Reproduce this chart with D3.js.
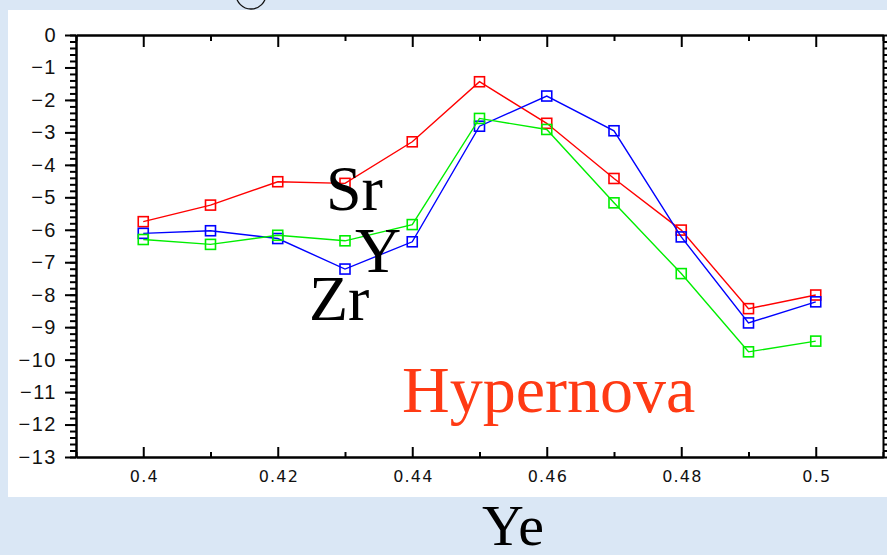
<!DOCTYPE html>
<html>
<head>
<meta charset="utf-8">
<script src="https://cdn.jsdelivr.net/npm/d3@7"></script>
<style>
  html, body { margin: 0; padding: 0; background: #dae7f5; }
  svg { display: block; }
</style>
</head>
<body>
<svg id="chart" width="887" height="555"></svg>
<script>
// ---- data ----
const ye = [0.40, 0.41, 0.42, 0.43, 0.44, 0.45, 0.46, 0.47, 0.48, 0.49, 0.50];
const srValues = [-5.75, -5.24, -4.52, -4.57, -3.29, -1.44, -2.72, -4.42, -6.01, -8.43, -8.01];
const zrValues = [-6.11, -6.03, -6.27, -7.21, -6.37, -2.81, -1.88, -2.95, -6.22, -8.87, -8.22];
const yValues  = [-6.30, -6.45, -6.17, -6.34, -5.84, -2.57, -2.91, -5.17, -7.35, -9.76, -9.43];
const xTickValues = [0.40, 0.42, 0.44, 0.46, 0.48, 0.50];
const xTickLabels = ["0.4", "0.42", "0.44", "0.46", "0.48", "0.5"];
const xMinorTicks = [0.39, 0.41, 0.43, 0.45, 0.47, 0.49, 0.51];
const yTickValues = [0, -1, -2, -3, -4, -5, -6, -7, -8, -9, -10, -11, -12, -13];
const yTickLabels = ["0", "−1", "−2", "−3", "−4", "−5", "−6", "−7", "−8", "−9", "−10", "−11", "−12", "−13"];
const seriesNames = ["Sr", "Zr", "Y"];
const seriesColors = ["#ff0000", "#0000ff", "#00ee00"];
const series = [srValues, zrValues, yValues];

const svg = d3.select("#chart");

// background panel
svg.append("rect").attr("x", 0).attr("y", 0).attr("width", 887).attr("height", 555).attr("fill", "#dae7f5");
svg.append("rect").attr("x", 8).attr("y", 10).attr("width", 879).attr("height", 487).attr("fill", "#ffffff");
// partial circle at top
svg.append("circle").attr("cx", 251).attr("cy", -6).attr("r", 15)
  .attr("fill", "none").attr("stroke", "#111").attr("stroke-width", 1.3);

const x = d3.scaleLinear().domain([0.39, 0.51]).range([76, 883]);
const y = d3.scaleLinear().domain([0, -13]).range([35, 457]);

const axisStyle = g => {
  g.selectAll("path, line").attr("stroke", "#000").attr("stroke-width", 2);
};

// y minor ticks
const yMinor = d3.range(0, -13.01, -0.2).map(v => Math.round(v * 10) / 10);
svg.append("g").attr("transform", "translate(76,0)")
  .call(d3.axisLeft(y).tickValues(yMinor).tickSizeInner(6).tickSizeOuter(0).tickFormat(""))
  .call(axisStyle);
// y major
svg.append("g").attr("transform", "translate(76,0)")
  .call(d3.axisLeft(y).tickValues(yTickValues).tickSizeInner(11).tickSizeOuter(0).tickPadding(8)
    .tickFormat((d, i) => yTickLabels[i]))
  .call(axisStyle)
  .call(g => g.selectAll("text").attr("font-family", "Liberation Sans, Arial, sans-serif")
    .attr("font-size", 20).attr("letter-spacing", 1.5).attr("fill", "#111"));
// right axis
svg.append("g").attr("transform", "translate(883,0)")
  .call(d3.axisRight(y).tickValues(yMinor).tickSizeInner(5).tickSizeOuter(0).tickFormat(""))
  .call(axisStyle);

// top axis
svg.append("g").attr("transform", "translate(0,35)")
  .call(d3.axisTop(x).tickValues(xMinorTicks).tickSizeInner(-6).tickSizeOuter(0).tickFormat(""))
  .call(axisStyle);
svg.append("g").attr("transform", "translate(0,35)")
  .call(d3.axisTop(x).tickValues(xTickValues).tickSizeInner(-12).tickSizeOuter(0).tickFormat(""))
  .call(axisStyle);
// bottom axis
svg.append("g").attr("transform", "translate(0,457)")
  .call(d3.axisBottom(x).tickValues(xMinorTicks).tickSizeInner(-5).tickSizeOuter(0).tickFormat(""))
  .call(axisStyle);
svg.append("g").attr("transform", "translate(0,457)")
  .call(d3.axisBottom(x).tickValues(xTickValues).tickSizeInner(-10).tickSizeOuter(0).tickPadding(14)
    .tickFormat((d, i) => xTickLabels[i]))
  .call(axisStyle)
  .call(g => g.selectAll("text").attr("font-family", "DejaVu Sans, sans-serif")
    .attr("font-size", 16).attr("letter-spacing", 1.2).attr("dx", 0.6).attr("fill", "#111"));

// series
const line = d3.line().x((d, i) => x(ye[i])).y(d => y(d));
series.forEach((vals, k) => {
  svg.append("path").datum(vals).attr("d", line)
    .attr("fill", "none").attr("stroke", seriesColors[k]).attr("stroke-width", 1.4);
  svg.append("g").selectAll("rect").data(vals).join("rect")
    .attr("x", (d, i) => x(ye[i]) - 5).attr("y", d => y(d) - 5)
    .attr("width", 10).attr("height", 10)
    .attr("fill", "none").attr("stroke", seriesColors[k]).attr("stroke-width", 1.6);
});

// labels
const serif = "Liberation Serif, Times New Roman, serif";
const labels = [
  {t: "Sr", x: 326, y: 210, s: 64, c: "#000"},
  {t: "Y", x: 355, y: 272, s: 64, c: "#000"},
  {t: "Zr", x: 309, y: 320, s: 64, c: "#000"},
  {t: "Hypernova", x: 402, y: 412, s: 66, c: "#ff3a14"},
];
labels.forEach(l => {
  svg.append("text").attr("x", l.x).attr("y", l.y).text(l.t)
    .attr("font-family", serif).attr("font-size", l.s).attr("fill", l.c);
});
svg.append("text").attr("x", 513).attr("y", 545).attr("text-anchor", "middle").text("Ye")
  .attr("font-family", serif).attr("font-size", 58).attr("fill", "#000");
</script>
</body>
</html>
